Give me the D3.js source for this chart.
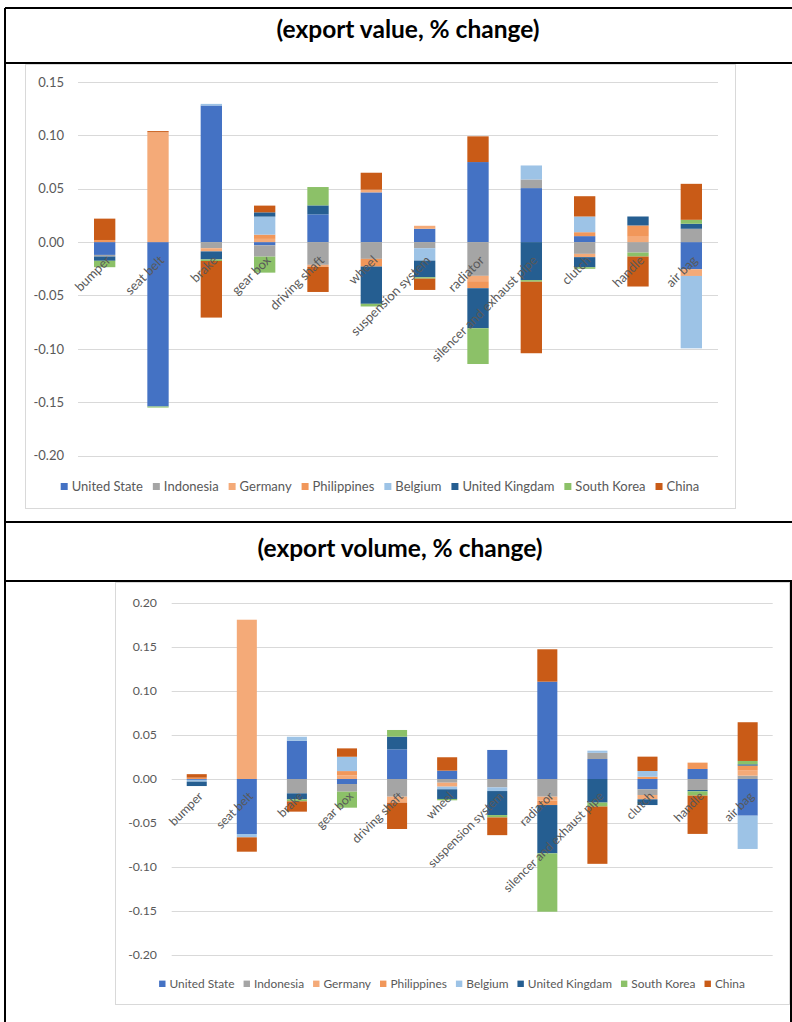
<!DOCTYPE html>
<html>
<head>
<meta charset="utf-8">
<script src="https://cdn.jsdelivr.net/npm/d3@7"></script>
<style>
  body { margin: 0; background: #fff; }
  svg text { font-family: Lato, "Open Sans", sans-serif; }
</style>
</head>
<body>
<svg id="page" width="792" height="1022"></svg>
<script>
// ---- data ----
const categories = ["bumper", "seat belt", "brake", "gear box", "driving shaft", "wheel",
  "suspension system", "radiator", "silencer and exhaust pipe", "clutch", "handle", "air bag"];

const seriesNames = ["United State", "Indonesia", "Germany", "Philippines", "Belgium",
  "United Kingdam", "South Korea", "China"];

const seriesColors = ["#4472C4", "#A5A5A5", "#F4AA78", "#F1975A", "#9DC3E6",
  "#255E91", "#8CC168", "#C95B17"];

const valueTicks = [-0.20, -0.15, -0.10, -0.05, 0.00, 0.05, 0.10, 0.15];
const volumeTicks = [-0.20, -0.15, -0.10, -0.05, 0.00, 0.05, 0.10, 0.15, 0.20];

// export value, % change (one array per exporting country, in category order)
const valueUnitedState = [-0.012, -0.154, 0.128, -0.003, 0.026, 0.0466, 0.0125, 0.075, 0.0506, 0.0056, 0, -0.0254];
const valueIndonesia   = [-0.0015, 0, -0.0057, -0.0106, -0.0213, -0.0157, -0.0057, -0.0316, 0.0081, -0.011, -0.0098, 0.0125];
const valueGermany     = [0, 0.103, -0.003, 0.003, -0.002, 0.0025, 0.0028, -0.005, 0, -0.0031, 0.005, -0.0063];
const valuePhilippines = [0.002, 0, 0, 0.004, 0, -0.0072, 0, -0.0066, 0, 0.0037, 0.0106, 0];
const valueBelgium     = [0, 0, 0.0015, 0.0169, 0, 0, -0.0116, 0, 0.0131, 0.0147, 0, -0.0678];
const valueUnitedKingdam = [-0.004, 0, -0.0075, 0.004, 0.0084, -0.0349, -0.0156, -0.0375, -0.0356, -0.0094, 0.0084, 0.0047];
const valueSouthKorea  = [-0.006, -0.001, -0.0015, -0.015, 0.0172, -0.0025, -0.0013, -0.0335, -0.0015, -0.0015, -0.0037, 0.0037];
const valueChina       = [0.020, 0.001, -0.053, 0.0063, -0.0234, 0.0159, -0.0106, 0.0241, -0.067, 0.019, -0.0281, 0.0337];

// export volume, % change
const volumeUnitedState = [-0.001, -0.0625, 0.0435, -0.0057, 0.0337, 0.0095, 0.033, 0.1106, 0.0227, -0.0117, 0.0114, -0.0417];
const volumeIndonesia   = [0, 0, -0.0163, -0.0087, -0.0201, -0.0042, -0.0095, -0.0201, 0.007, -0.0065, -0.0125, 0.0038];
const volumeGermany     = [0, 0.181, 0, 0.004, -0.0068, -0.0045, 0, -0.0045, 0, -0.0049, 0, 0.0057];
const volumePhilippines = [0.0015, 0, 0, 0.005, 0, 0, 0, -0.005, 0, 0.0026, 0.0072, 0.0057];
const volumeBelgium     = [-0.002, -0.0038, 0.0045, 0.0163, 0, -0.003, -0.0042, 0, 0.0025, 0.0065, 0, -0.0378];
const volumeUnitedKingdam = [-0.005, 0, -0.0068, 0, 0.0144, -0.011, -0.0273, -0.0549, -0.0268, -0.0065, -0.0015, 0.0015];
const volumeSouthKorea  = [0, 0, -0.0023, -0.0182, 0.0076, -0.0015, -0.0027, -0.0663, -0.0045, 0, -0.0049, 0.0038];
const volumeChina       = [0.004, -0.0163, -0.0117, 0.0095, -0.0299, 0.0152, -0.0201, 0.0368, -0.0651, 0.0163, -0.0435, 0.044];

const valueSeries = [valueUnitedState, valueIndonesia, valueGermany, valuePhilippines,
  valueBelgium, valueUnitedKingdam, valueSouthKorea, valueChina];
const volumeSeries = [volumeUnitedState, volumeIndonesia, volumeGermany, volumePhilippines,
  volumeBelgium, volumeUnitedKingdam, volumeSouthKorea, volumeChina];

// rows keyed by series name, one row per category
function toRows(series) {
  return categories.map((c, i) => {
    const row = { category: c };
    seriesNames.forEach((s, j) => { row[s] = series[j][i]; });
    return row;
  });
}

const svg = d3.select("#page");
svg.append("rect").attr("width", 792).attr("height", 1022).attr("fill", "#fff");

const textColor = "#595959";
const gridColor = "#D9D9D9";

// ---- stacked bar chart ----
function drawChart(cfg) {
  const g = svg.append("g");
  g.append("rect").attr("x", cfg.box[0] + 0.5).attr("y", cfg.box[1] + 0.5)
    .attr("width", cfg.box[2] - cfg.box[0]).attr("height", cfg.box[3] - cfg.box[1])
    .attr("fill", "#fff").attr("stroke", gridColor);

  const rows = toRows(cfg.series);
  const y = d3.scaleLinear().domain(d3.extent(cfg.ticks)).range([cfg.bottom, cfg.top]);
  const x = d3.scaleBand().domain(categories).range([cfg.left, cfg.right])
    .paddingInner(0.6).paddingOuter(0.3);

  // gridlines
  g.append("g").selectAll("line").data(cfg.ticks).join("line")
    .attr("x1", cfg.left).attr("x2", cfg.right)
    .attr("y1", d => Math.round(y(d)) + 0.5).attr("y2", d => Math.round(y(d)) + 0.5)
    .attr("stroke", gridColor).attr("stroke-width", 1);

  // value axis labels
  const yAxis = g.append("g").attr("transform", `translate(${cfg.labelRight},0)`)
    .call(d3.axisLeft(y).tickValues(cfg.ticks).tickSize(0).tickPadding(0)
      .tickFormat(d => d.toFixed(2)));
  yAxis.select(".domain").remove();
  yAxis.selectAll("text").attr("fill", textColor).attr("font-size", cfg.font)
    .attr("font-family", "Lato, sans-serif");

  // stacked bars (positive values stack upward, negatives downward)
  const stacked = d3.stack().keys(seriesNames).offset(d3.stackOffsetDiverging)(rows);
  g.append("g").selectAll("g").data(stacked).join("g")
    .attr("fill", (d, i) => seriesColors[i])
    .selectAll("rect").data(d => d).join("rect")
    .attr("x", d => x(d.data.category))
    .attr("width", x.bandwidth())
    .attr("y", d => y(Math.max(d[0], d[1])))
    .attr("height", d => Math.abs(y(d[0]) - y(d[1])));

  // category labels, slanted beneath the zero line
  const xAxis = g.append("g").attr("transform", `translate(0,${y(0)})`)
    .call(d3.axisBottom(x).tickSize(0).tickPadding(0));
  xAxis.select(".domain").remove();
  xAxis.selectAll(".tick text")
    .attr("fill", textColor).attr("font-size", cfg.font).attr("font-family", "Lato, sans-serif")
    .attr("text-anchor", "end").attr("dy", 0).attr("y", 0)
    .attr("transform", `translate(${cfg.labelDx},${cfg.labelDy}) rotate(-45)`);

  // legend, centred within the chart box
  const lg = g.append("g");
  const items = lg.selectAll("g").data(seriesNames).join("g");
  items.append("rect").attr("width", cfg.swatch).attr("height", cfg.swatch)
    .attr("y", -cfg.swatch + 1).attr("fill", (d, i) => seriesColors[i]);
  items.append("text").attr("x", cfg.swatch + cfg.swatchGap).attr("y", 0)
    .attr("dy", "0.32em").attr("fill", textColor).attr("font-size", cfg.legendFont).text(d => d)
    .attr("transform", `translate(0,${-cfg.swatch / 2 + 1})`);
  let cursor = 0;
  items.each(function () {
    const w = cfg.swatch + cfg.swatchGap + d3.select(this).select("text").node().getComputedTextLength();
    d3.select(this).attr("transform", `translate(${cursor},0)`);
    cursor += w + cfg.itemGap;
  });
  const total = cursor - cfg.itemGap;
  const cx = (cfg.box[0] + cfg.box[2]) / 2;
  lg.attr("transform", `translate(${cx - total / 2},${cfg.legendY})`);
}

drawChart({
  series: valueSeries, ticks: valueTicks,
  box: [25, 64, 735, 508],
  left: 78, right: 718, top: 82, bottom: 455.6, labelRight: 64,
  font: 13, legendFont: 13, labelDx: 7, labelDy: 19,
  swatch: 7, swatchGap: 4, itemGap: 10, legendY: 489
});

drawChart({
  series: volumeSeries, ticks: volumeTicks,
  box: [115, 582, 789, 1004],
  left: 171.7, right: 772.7, top: 603, bottom: 955, labelRight: 157,
  font: 12.3, legendFont: 11.9, labelDx: 7, labelDy: 18,
  swatch: 6.4, swatchGap: 4, itemGap: 9, legendY: 986
});

// ---- document table frame and headings ----
const frame = svg.append("g").attr("stroke", "#000").attr("stroke-width", 2);
[[5, 8, 792, 8], [5, 63, 792, 63], [5, 522, 792, 522], [5, 581, 792, 581],
 [5, 8, 5, 1022], [791, 581, 791, 1022]].forEach(l =>
  frame.append("line").attr("x1", l[0]).attr("y1", l[1]).attr("x2", l[2]).attr("y2", l[3]));

function heading(text, cx, baseline) {
  svg.append("text").attr("x", cx).attr("y", baseline).attr("text-anchor", "middle")
    .attr("font-size", 24.5).attr("font-weight", 700).attr("fill", "#000").text(text);
}
heading("(export value, % change)", 408, 38);
heading("(export volume, % change)", 400, 557);
</script>
</body>
</html>
